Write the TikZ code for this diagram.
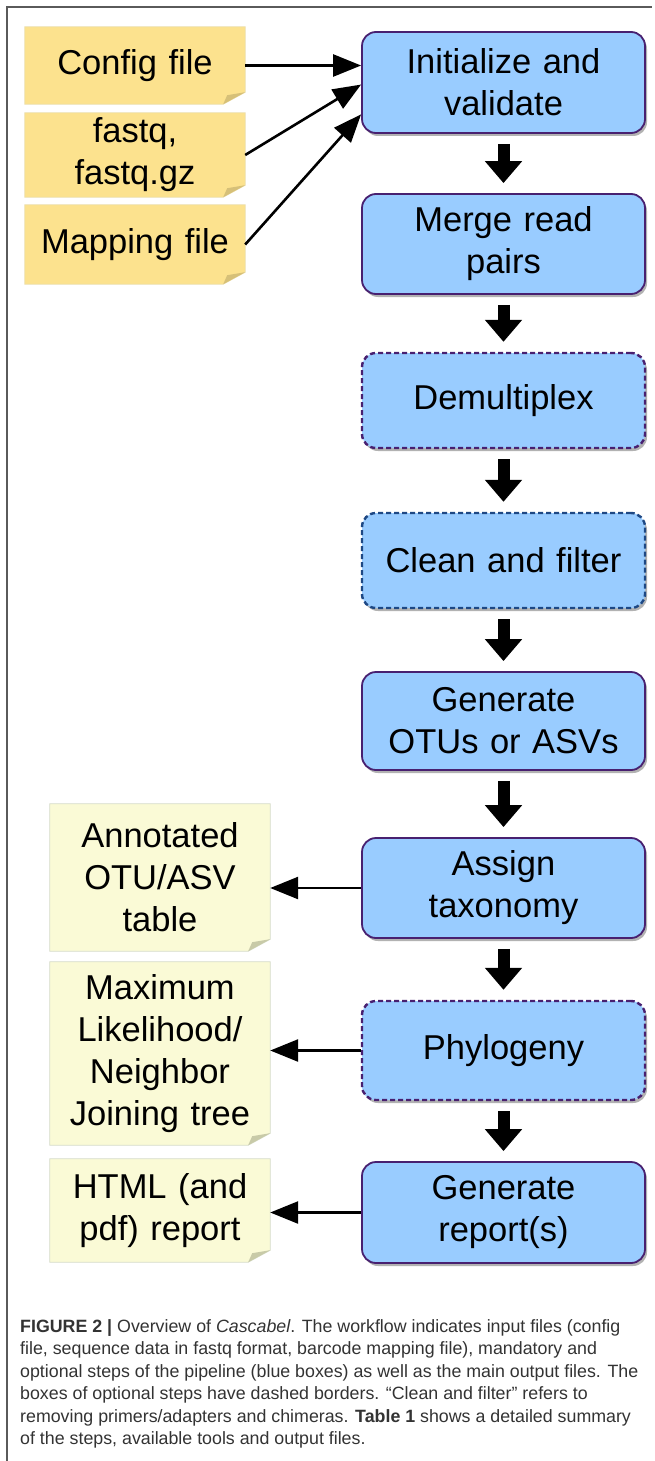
\documentclass[tikz,border=0pt]{standalone}
\usepackage{fontspec}
\setmainfont{Liberation Sans}
\usetikzlibrary{arrows.meta,shadows,calc,backgrounds}

\definecolor{infill}{RGB}{252,226,142}
\definecolor{infold}{RGB}{214,192,120}
\definecolor{inborder}{RGB}{236,222,170}
\definecolor{outfill}{RGB}{250,250,214}
\definecolor{outfold}{RGB}{200,202,168}
\definecolor{outborder}{RGB}{214,220,200}
\definecolor{boxblue}{RGB}{153,204,255}
\definecolor{boxpurple}{RGB}{72,32,112}
\definecolor{boxdarkblue}{RGB}{30,72,132}
\definecolor{capgray}{RGB}{51,51,51}
\definecolor{framegray}{RGB}{90,90,90}

\newcommand\bigfont{\fontsize{34.5}{42}\selectfont}
\newcommand\capfont{\fontsize{17.8}{22.5}\selectfont}
\newcommand\stickynote[4]{%
  \fill[#2, draw=#4, line width=0.8pt] (#1.north west) -- (#1.north east)
    -- ($(#1.south east)+(0,-12)$) -- ($(#1.south east)+(-22,0)$)
    -- (#1.south west) -- cycle;
  \fill[#3] ($(#1.south east)+(0,-12)$) -- ($(#1.south east)+(-22,0)$)
    -- ($(#1.south east)+(-18,-9)$) -- cycle;}

\begin{document}
\begin{tikzpicture}[x=1pt,y=-1pt,
  bluebox/.style={rectangle, rounded corners=14pt, fill=boxblue, draw=boxpurple,
    line width=1.8pt, minimum width=283pt, text width=270pt, align=center,
    inner sep=0pt, font=\bigfont,
    drop shadow={shadow xshift=2pt, shadow yshift=-3pt, fill=black!50, opacity=0.6}},
  optbox/.style={bluebox, line width=2.4pt, dash pattern=on 5pt off 3pt},
  optblue/.style={optbox, draw=boxdarkblue},
  notebox/.style={rectangle, minimum width=220pt, text width=210pt, align=center,
    inner sep=0pt, font=\bigfont},
  flowarrow/.style={line width=12pt, -{Triangle[length=22pt,width=36pt]},
    shorten <=10pt, shorten >=10pt},
  thinarrow/.style={line width=2.6pt, -{Triangle[length=28pt,width=22pt]}},
]
\useasboundingbox (0,0) rectangle (654,1461);
\draw[framegray, line width=1.2pt] (7,1461) -- (7,7) -- (652,7);

% input notes
\node[notebox, minimum height=77pt] (cfg) at (135,65.5) {Config file};
\node[notebox, minimum height=84pt] (fq) at (135,155) {fastq,\\fastq.gz};
\node[notebox, minimum height=79pt] (map) at (135,244.5) {Mapping file};

% output notes
\node[notebox, minimum height=147pt] (ann) at (160,877.5) {Annotated\\OTU/ASV\\table};
\node[notebox, minimum height=183pt] (tree) at (160,1053.5) {Maximum\\Likelihood/\\Neighbor\\Joining tree};
\node[notebox, minimum height=103pt] (html) at (160,1210.5) {HTML (and\\pdf) report};

\begin{pgfonlayer}{background}
  \fill[white] (0,0) rectangle (654,1461);
  \stickynote{cfg}{infill}{infold}{inborder}
  \stickynote{fq}{infill}{infold}{inborder}
  \stickynote{map}{infill}{infold}{inborder}
  \stickynote{ann}{outfill}{outfold}{outborder}
  \stickynote{tree}{outfill}{outfold}{outborder}
  \stickynote{html}{outfill}{outfold}{outborder}
\end{pgfonlayer}

% pipeline steps
\node[bluebox, minimum height=101pt] (init) at (503.5,82.5) {Initialize and\\validate};
\node[bluebox, minimum height=100pt] (merge) at (503.5,244) {Merge read\\pairs};
\node[optbox, minimum height=95pt] (demux) at (503.5,400.5) {Demultiplex};
\node[optblue, minimum height=95pt] (clean) at (503.5,560.5) {Clean and filter};
\node[bluebox, minimum height=98pt] (otu) at (503.5,721) {Generate\\OTUs or ASVs};
\node[bluebox, minimum height=100pt] (assign) at (503.5,888) {Assign\\taxonomy};
\node[optbox, minimum height=99pt] (phylo) at (503.5,1050.5) {Phylogeny};
\node[bluebox, minimum height=101pt] (report) at (503.5,1212.5) {Generate\\report(s)};

% flow arrows
\draw[flowarrow] (init.south) -- (merge.north);
\draw[flowarrow] (merge.south) -- (demux.north);
\draw[flowarrow] (demux.south) -- (clean.north);
\draw[flowarrow] (clean.south) -- (otu.north);
\draw[flowarrow] (otu.south) -- (assign.north);
\draw[flowarrow] (assign.south) -- (phylo.north);
\draw[flowarrow] (phylo.south) -- (report.north);

% input arrows
\draw[thinarrow] (cfg.east) -- (cfg.east -| init.west);
\draw[thinarrow] (fq.east) -- ($(init.north west)!0.52!(init.south west)$);
\draw[thinarrow] (map.east) -- ($(init.north west)!0.81!(init.south west)$);

% output arrows
\draw[thinarrow] (assign.west) -- (assign.west -| ann.east);
\draw[thinarrow] (phylo.west) -- (phylo.west -| tree.east);
\draw[thinarrow] (report.west) -- (report.west -| html.east);

% caption
\node[anchor=north west, align=left, inner sep=0pt, font=\capfont, text=capgray] (cap) at (20,1319)
{\textbf{FIGURE 2 |} Overview of \textit{Cascabel}. The workflow indicates input files (config\\
file, sequence data in fastq format, barcode mapping file), mandatory and\\
optional steps of the pipeline (blue boxes) as well as the main output files. The\\
boxes of optional steps have dashed borders. “Clean and filter” refers to\\
removing primers/adapters and chimeras. \textbf{Table 1} shows a detailed summary\\
of the steps, available tools and output files.};
\end{tikzpicture}
\end{document}
